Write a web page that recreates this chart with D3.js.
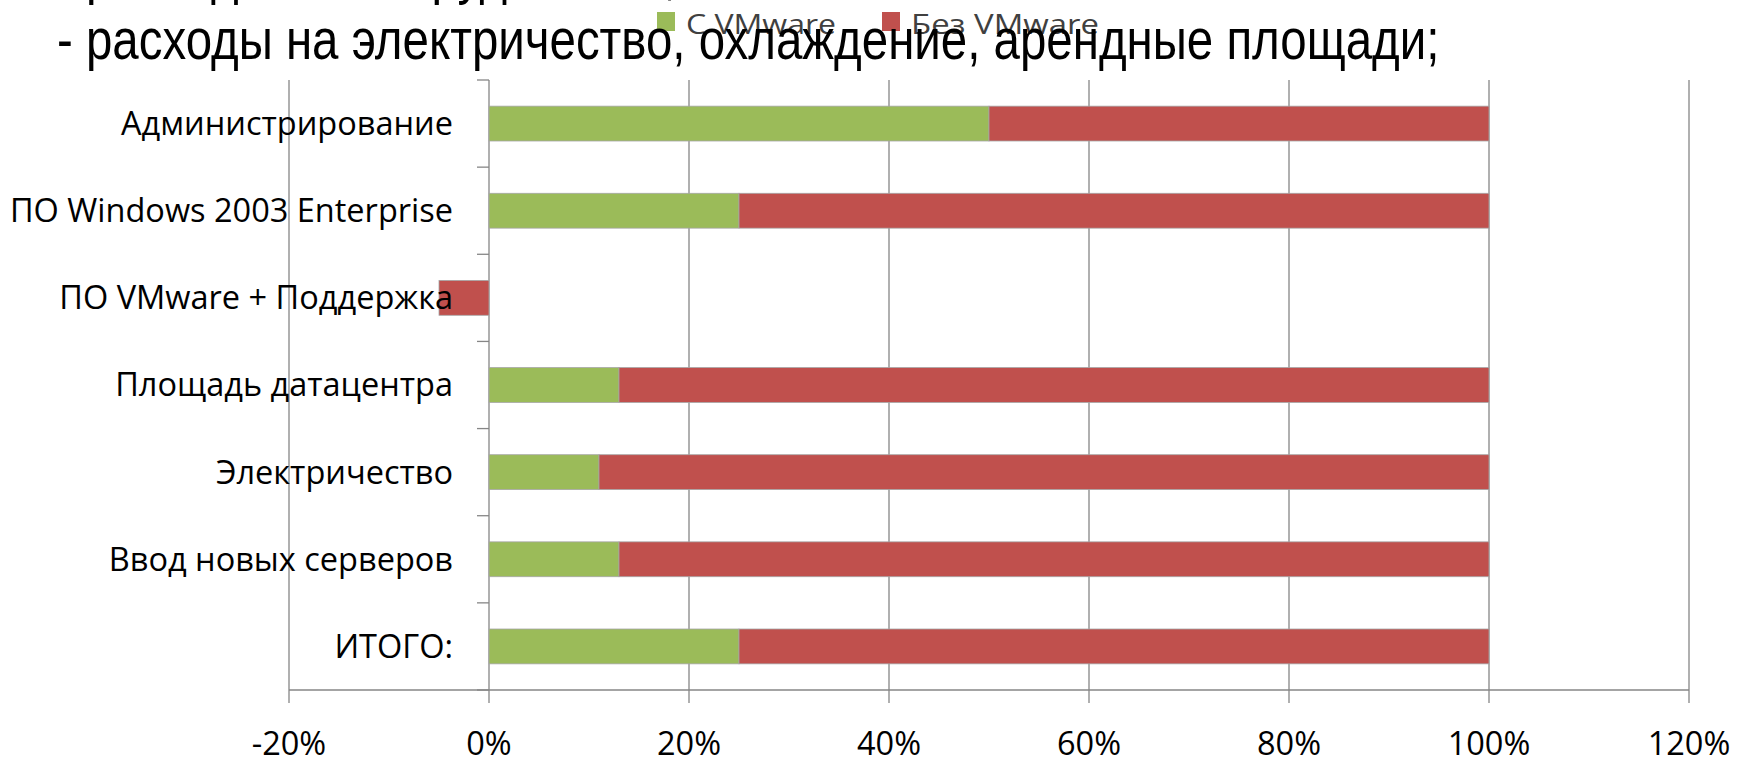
<!DOCTYPE html>
<html>
<head>
<meta charset="utf-8">
<script src="https://cdn.jsdelivr.net/npm/d3@7"></script>
<style>
  html, body { margin: 0; padding: 0; background: #fff; overflow: hidden; }
  svg { display: block; }
</style>
</head>
<body>
<div id="chart"></div>
<script>
const categories = [
  'Администрирование',
  'ПО Windows 2003 Enterprise',
  'ПО VMware + Поддержка',
  'Площадь датацентра',
  'Электричество',
  'Ввод новых серверов',
  'ИТОГО:'
];
const withVmware = [50, 25, 0, 13, 11, 13, 25];
const withoutVmware = [50, 75, -5, 87, 89, 87, 75];
const seriesNames = ['С VMware', 'Без VMware'];
const seriesColors = ['#9BBB59', '#C0504D'];
const xTicks = [-20, 0, 20, 40, 60, 80, 100, 120];
const textLines = [
  '- расходы на оборудование,',
  '- расходы на электричество, охлаждение, арендные площади;'
];

const width = 1746;
const height = 766;
const margin = {top: 80, right: 57, bottom: 76, left: 289};

const svg = d3.select('#chart').append('svg')
  .attr('width', width)
  .attr('height', height);

const rows = categories.map((c, i) => ({cat: c, a: withVmware[i], b: withoutVmware[i]}));

const x = d3.scaleLinear()
  .domain([xTicks[0], xTicks[xTicks.length - 1]])
  .range([margin.left, width - margin.right]);

const y = d3.scaleBand()
  .domain(categories)
  .range([margin.top, height - margin.bottom])
  .paddingInner(0.6)
  .paddingOuter(0.3);

const stacked = d3.stack()
  .keys(['a', 'b'])
  .offset(d3.stackOffsetDiverging)(rows);

const gridColor = '#868686';
const y0 = margin.top, y1 = height - margin.bottom;

// vertical gridlines + bottom ticks
svg.append('g')
  .selectAll('line')
  .data(xTicks)
  .join('line')
  .attr('x1', d => x(d)).attr('x2', d => x(d))
  .attr('y1', y0).attr('y2', y1 + 13)
  .attr('stroke', gridColor)
  .attr('stroke-width', 1.3);

// bars
svg.append('g')
  .selectAll('g')
  .data(stacked)
  .join('g')
  .attr('fill', (d, i) => seriesColors[i])
  .selectAll('rect')
  .data(d => d.map(v => Object.assign(v, {cat: v.data.cat})))
  .join('rect')
  .attr('x', d => x(Math.min(d[0], d[1])))
  .attr('width', d => Math.abs(x(d[1]) - x(d[0])))
  .attr('y', d => y(d.cat))
  .attr('height', y.bandwidth())
  .attr('stroke', '#a6a6a6')
  .attr('stroke-width', 0.8)
  .attr('stroke-opacity', d => (d[1] === d[0] ? 0 : 1));

// bottom axis line
svg.append('line')
  .attr('x1', x(xTicks[0])).attr('x2', x(xTicks[xTicks.length - 1]))
  .attr('y1', y1).attr('y2', y1)
  .attr('stroke', gridColor)
  .attr('stroke-width', 1.3);

// category axis at 0 with tick marks at band edges
const step = y.step();
svg.append('g')
  .selectAll('line')
  .data(d3.range(categories.length + 1))
  .join('line')
  .attr('x1', x(0) - 12).attr('x2', x(0))
  .attr('y1', i => y0 + i * step).attr('y2', i => y0 + i * step)
  .attr('stroke', gridColor)
  .attr('stroke-width', 1.3);

// category labels
svg.append('g')
  .selectAll('text')
  .data(categories)
  .join('text')
  .attr('x', x(0) - 36)
  .attr('y', d => y(d) + y.bandwidth() / 2)
  .attr('dy', '0.35em')
  .attr('text-anchor', 'end')
  .attr('font-family', '"Open Sans", sans-serif')
  .attr('font-size', 32.5)
  .attr('fill', '#000')
  .text(d => d);

// x tick labels
svg.append('g')
  .selectAll('text')
  .data(xTicks)
  .join('text')
  .attr('x', d => x(d))
  .attr('y', 755)
  .attr('text-anchor', 'middle')
  .attr('font-family', '"Open Sans", sans-serif')
  .attr('font-size', 32.5)
  .attr('fill', '#000')
  .text(d => d + '%');

// legend
const legendPos = [657, 882];
const legendLen = [150, 188];
const legend = svg.append('g')
  .selectAll('g')
  .data(seriesNames)
  .join('g')
  .attr('transform', (d, i) => `translate(${legendPos[i]},0)`);
legend.append('rect')
  .attr('x', 0).attr('y', 12)
  .attr('width', 18).attr('height', 19)
  .attr('fill', (d, i) => seriesColors[i]);
legend.append('text')
  .attr('x', 29).attr('y', 34)
  .attr('font-family', '"Open Sans", sans-serif')
  .attr('font-size', 28)
  .attr('fill', '#404040')
  .attr('textLength', (d, i) => legendLen[i])
  .attr('lengthAdjust', 'spacingAndGlyphs')
  .text(d => d);

// slide text on top (overlaps the legend in the original)
const lines = svg.append('g')
  .selectAll('text')
  .data(textLines)
  .join('text')
  .attr('font-family', '"Liberation Sans", Arial, sans-serif')
  .attr('font-size', 58)
  .attr('fill', '#000')
  .text(d => d);

const natural = lines.nodes()[1].getComputedTextLength();
const sx = (1440 - 57) / natural;
lines.attr('transform', (d, i) => `translate(57,${i === 0 ? -7 : 59}) scale(${sx},1)`);
</script>
</body>
</html>
